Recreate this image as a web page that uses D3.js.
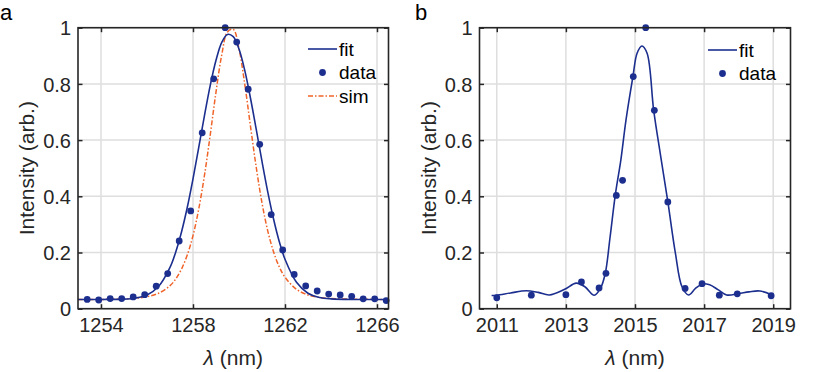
<!DOCTYPE html>
<html>
<head>
<meta charset="utf-8">
<script src="https://cdn.jsdelivr.net/npm/d3@7/dist/d3.min.js"></script>
<style>
  html, body { margin: 0; padding: 0; background: #fff; }
  svg { display: block; font-family: "Liberation Sans", Arial, Helvetica, sans-serif; }
</style>
</head>
<body>
<svg id="chart" width="830" height="372"></svg>
<script>
// ---------- Panel a data ----------
const aDataX = [1253.4,1253.9,1254.4,1254.9,1255.4,1255.9,1256.4,1256.9,1257.4,1257.9,1258.4,1258.9,1259.4,1259.9,1260.4,1260.9,1261.4,1261.9,1262.4,1262.9,1263.4,1263.9,1264.4,1264.9,1265.4,1265.9,1266.4];
const aDataY = [0.033,0.031,0.036,0.036,0.042,0.050,0.080,0.125,0.241,0.348,0.626,0.818,1.000,0.949,0.781,0.585,0.335,0.209,0.122,0.081,0.063,0.052,0.049,0.044,0.035,0.035,0.029];

const aCurveX = [1253,1254,1255,1255.5,1256,1256.5,1257,1257.25,1257.5,1257.75,1258,1258.25,1258.5,1258.75,1259,1259.25,1259.5,1259.75,1260,1260.25,1260.5,1260.75,1261,1261.25,1261.5,1261.75,1262,1262.5,1263,1263.5,1264,1265,1266,1266.5];
const aFitY   = [0.033,0.033,0.034,0.038,0.049,0.079,0.147,0.202,0.273,0.360,0.462,0.574,0.688,0.795,0.884,0.948,0.976,0.968,0.924,0.848,0.749,0.638,0.524,0.416,0.320,0.239,0.176,0.094,0.055,0.040,0.035,0.033,0.033,0.033];
const aSimY   = [0.033,0.033,0.035,0.037,0.043,0.055,0.082,0.106,0.141,0.191,0.260,0.355,0.475,0.619,0.771,0.903,0.985,0.994,0.925,0.799,0.649,0.503,0.376,0.277,0.203,0.149,0.112,0.069,0.049,0.040,0.036,0.034,0.033,0.033];

const aXTicks = [1254,1258,1262,1266];

// ---------- Panel b data ----------
const bDataX = [2011,2012,2013,2013.45,2013.96,2014.16,2014.46,2014.64,2014.95,2015.31,2015.56,2015.95,2016.45,2016.94,2017.44,2017.96,2018.94];
const bDataY = [0.039,0.048,0.050,0.095,0.074,0.126,0.403,0.457,0.826,1.000,0.706,0.380,0.072,0.089,0.048,0.053,0.046];

const bFitX = [2010.85,2011.0,2011.4,2011.85,2012.2,2012.52,2012.95,2013.3,2013.55,2013.82,2014.0,2014.14,2014.28,2014.43,2014.59,2014.74,2014.94,2015.06,2015.2,2015.35,2015.54,2015.73,2015.95,2016.17,2016.36,2016.55,2016.75,2016.95,2017.16,2017.4,2017.65,2018.0,2018.3,2018.61,2018.96];
const bFitY = [0.047,0.048,0.056,0.064,0.058,0.049,0.068,0.091,0.078,0.048,0.072,0.126,0.256,0.405,0.529,0.672,0.826,0.909,0.935,0.909,0.707,0.553,0.381,0.197,0.078,0.049,0.072,0.088,0.085,0.068,0.049,0.054,0.060,0.063,0.049];

const bXTicks = [2011,2013,2015,2017,2019];
const yTicks = [0,0.2,0.4,0.6,0.8,1];
const yTickLabels = ["0","0.2","0.4","0.6","0.8","1"];

// ---------- Styles ----------
const navy = "#1c2f8f";
const orange = "#f0642a";
const gridCol = "#dedede";
const axisCol = "#262626";

const svg = d3.select("#chart");

function panel(opts) {
  const { xDomain, xRange, xTicks, letter, letterX, curves, dataX, dataY, legend } = opts;
  const x = d3.scaleLinear().domain(xDomain).range(xRange);
  const y = d3.scaleLinear().domain([0, 1]).range([308.7, 27.7]);
  const g = svg.append("g");
  const [x0, x1] = xRange;
  const [y0, y1] = y.range();

  // grid
  g.append("g").selectAll("line").data(xTicks).join("line")
    .attr("x1", d => x(d)).attr("x2", d => x(d)).attr("y1", y0).attr("y2", y1)
    .attr("stroke", gridCol).attr("stroke-width", 1.5);
  g.append("g").selectAll("line").data(yTicks).join("line")
    .attr("x1", x0).attr("x2", x1).attr("y1", d => y(d)).attr("y2", d => y(d))
    .attr("stroke", gridCol).attr("stroke-width", 1.5);

  // clip
  const clipId = "clip-" + letter;
  svg.append("clipPath").attr("id", clipId).append("rect")
    .attr("x", x0).attr("y", y1).attr("width", x1 - x0).attr("height", y0 - y1);
  const plot = g.append("g").attr("clip-path", `url(#${clipId})`);

  const lineGen = d3.line().x(d => x(d[0])).y(d => y(d[1])).curve(d3.curveCatmullRom.alpha(0.5));
  curves.forEach(c => {
    const pts = c.xs.map((v, i) => [v, c.ys[i]]);
    plot.append("path").datum(pts).attr("d", lineGen)
      .attr("fill", "none").attr("stroke", c.color).attr("stroke-width", c.width)
      .attr("stroke-dasharray", c.dash || null);
  });

  g.append("g").selectAll("circle").data(dataX.map((v, i) => [v, dataY[i]])).join("circle")
    .attr("cx", d => x(d[0])).attr("cy", d => y(d[1])).attr("r", 3.4).attr("fill", navy);

  // axes
  const tickLen = 4.5;
  const font = "20px";
  const bottom = g.append("g").attr("transform", `translate(0,${y0})`)
    .call(d3.axisBottom(x).tickValues(xTicks).tickFormat(d3.format("d")).tickSizeInner(-tickLen).tickSizeOuter(0).tickPadding(9));
  const top = g.append("g").attr("transform", `translate(0,${y1})`)
    .call(d3.axisTop(x).tickValues(xTicks).tickFormat("").tickSizeInner(-tickLen).tickSizeOuter(0));
  const left = g.append("g").attr("transform", `translate(${x0},0)`)
    .call(d3.axisLeft(y).tickValues(yTicks).tickFormat((d, i) => yTickLabels[i]).tickSizeInner(-tickLen).tickSizeOuter(0).tickPadding(7));
  const right = g.append("g").attr("transform", `translate(${x1},0)`)
    .call(d3.axisRight(y).tickValues(yTicks).tickFormat("").tickSizeInner(-tickLen).tickSizeOuter(0));
  [bottom, top, left, right].forEach(a => {
    a.select(".domain").remove();
    a.selectAll(".tick line").attr("stroke", axisCol).attr("stroke-width", 1.5);
    a.selectAll("text").attr("fill", axisCol).style("font-size", font)
      .style("font-family", '"Liberation Sans", Arial, sans-serif');
  });
  bottom.selectAll("text").attr("dy", "0.71em");
  left.selectAll("text").attr("dy", "0.36em");

  g.append("rect").attr("x", x0).attr("y", y1).attr("width", x1 - x0).attr("height", y0 - y1)
    .attr("fill", "none").attr("stroke", axisCol).attr("stroke-width", 1.6);

  // axis labels
  const xl = g.append("text").attr("x", (x0 + x1) / 2).attr("y", 365)
    .attr("text-anchor", "middle").attr("fill", axisCol).style("font-size", "21px");
  xl.append("tspan").attr("font-style", "italic").text("λ");
  xl.append("tspan").text(" (nm)");

  g.append("text").attr("transform", `translate(${x0 - 44},${(y0 + y1) / 2}) rotate(-90)`)
    .attr("text-anchor", "middle").attr("fill", axisCol).style("font-size", "21px")
    .text("Intensity (arb.)");

  g.append("text").attr("x", letterX).attr("y", 20).attr("fill", "#000")
    .style("font-size", "22px").text(letter);

  // legend
  const lg = g.append("g");
  legend.items.forEach((it, i) => {
    const ly = legend.y + i * 23.5;
    if (it.type === "line") {
      lg.append("line").attr("x1", legend.x).attr("x2", legend.x + 29).attr("y1", ly).attr("y2", ly)
        .attr("stroke", it.color).attr("stroke-width", it.width).attr("stroke-dasharray", it.dash || null);
    } else {
      lg.append("circle").attr("cx", legend.x + 14.5).attr("cy", ly).attr("r", 3.4).attr("fill", it.color);
    }
    lg.append("text").attr("x", legend.x + 31).attr("y", ly).attr("dy", "0.36em")
      .attr("fill", "#000").style("font-size", "19px").text(it.label);
  });
}

panel({
  xDomain: [1253, 1266.5], xRange: [78, 388.5], xTicks: aXTicks, letter: "a", letterX: 0,
  curves: [
    { xs: aCurveX, ys: aSimY, color: orange, width: 1.5, dash: "5,2,1.5,2" },
    { xs: aCurveX, ys: aFitY, color: navy, width: 1.6 }
  ],
  dataX: aDataX, dataY: aDataY,
  legend: { x: 308, y: 49, items: [
    { type: "line", color: navy, width: 1.6, label: "fit" },
    { type: "dot", color: navy, label: "data" },
    { type: "line", color: orange, width: 1.5, dash: "5,2,1.5,2", label: "sim" }
  ] }
});

panel({
  xDomain: [2010.5, 2019.5], xRange: [479.5, 790.5], xTicks: bXTicks, letter: "b", letterX: 415,
  curves: [ { xs: bFitX, ys: bFitY, color: navy, width: 1.6 } ],
  dataX: bDataX, dataY: bDataY,
  legend: { x: 708, y: 50, items: [
    { type: "line", color: navy, width: 1.6, label: "fit" },
    { type: "dot", color: navy, label: "data" }
  ] }
});
</script>
</body>
</html>
